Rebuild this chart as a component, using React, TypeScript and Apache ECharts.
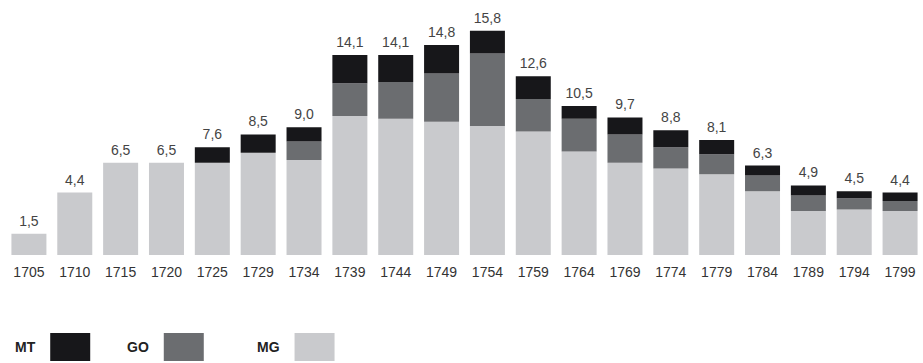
import React, { useEffect, useRef } from "react";
import * as echarts from "echarts";

const years = ["1705","1710","1715","1720","1725","1729","1734","1739","1744","1749","1754","1759","1764","1769","1774","1779","1784","1789","1794","1799"];
const mgValues = [1.5, 4.4, 6.5, 6.5, 6.5, 7.2, 6.7, 9.8, 9.6, 9.4, 9.1, 8.7, 7.3, 6.5, 6.1, 5.7, 4.5, 3.1, 3.2, 3.1];
const goValues = [0, 0, 0, 0, 0, 0, 1.3, 2.3, 2.6, 3.4, 5.1, 2.3, 2.3, 2.0, 1.5, 1.4, 1.1, 1.1, 0.8, 0.7];
const mtValues = [0, 0, 0, 0, 1.1, 1.3, 1.0, 2.0, 1.9, 2.0, 1.6, 1.6, 0.9, 1.2, 1.2, 1.0, 0.7, 0.7, 0.5, 0.6];
const totals = [1.5, 4.4, 6.5, 6.5, 7.6, 8.5, 9.0, 14.1, 14.1, 14.8, 15.8, 12.6, 10.5, 9.7, 8.8, 8.1, 6.3, 4.9, 4.5, 4.4];

const FONT = "'Liberation Sans', Arial, Helvetica, sans-serif";
const COLORS = { MT: "#17171a", GO: "#6b6d70", MG: "#c9cacd" };

export default function App() {
  const ref = useRef<HTMLDivElement>(null);
  useEffect(() => {
    document.body.style.margin = "0";
    const chart = echarts.init(ref.current!, null, { renderer: "svg" });
    const legendBase = {
      orient: "horizontal",
      align: "right",
      icon: "rect",
      itemWidth: 40,
      itemHeight: 28,
      padding: 0,
      top: 333,
      selectedMode: false,
      textStyle: {
        fontFamily: FONT,
        fontSize: 14,
        fontWeight: "bold",
        color: "#222",
        padding: [8, 10, 0, 0],
      },
    };
    chart.setOption({
      animation: false,
      backgroundColor: "#fff",
      textStyle: { fontFamily: FONT },
      grid: { left: 6, width: 920, top: 28, bottom: 108, containLabel: false },
      legend: [
        { ...legendBase, left: 15, data: ["MT"] },
        { ...legendBase, left: 127, data: ["GO"] },
        { ...legendBase, left: 257, data: ["MG"] },
      ],
      xAxis: {
        type: "category",
        data: years,
        axisLine: { show: false },
        axisTick: { show: false },
        axisLabel: { color: "#333", fontSize: 14, margin: 10, fontFamily: FONT },
      },
      yAxis: {
        type: "value",
        min: 0,
        max: 16,
        show: false,
        splitLine: { show: false },
      },
      series: [
        {
          name: "MG",
          type: "bar",
          stack: "total",
          barWidth: 35,
          data: mgValues,
          itemStyle: { color: COLORS.MG },
        },
        {
          name: "GO",
          type: "bar",
          stack: "total",
          barWidth: 35,
          data: goValues,
          itemStyle: { color: COLORS.GO },
        },
        {
          name: "MT",
          type: "bar",
          stack: "total",
          barWidth: 35,
          data: mtValues,
          itemStyle: { color: COLORS.MT },
          label: {
            show: true,
            position: "top",
            distance: 6,
            color: "#444",
            fontSize: 14,
            fontFamily: FONT,
            formatter: (p: any) => totals[p.dataIndex].toFixed(1).replace(".", ","),
          },
        },
      ],
    });
    return () => chart.dispose();
  }, []);
  return <div ref={ref} style={{ width: 923, height: 363 }} />;
}
